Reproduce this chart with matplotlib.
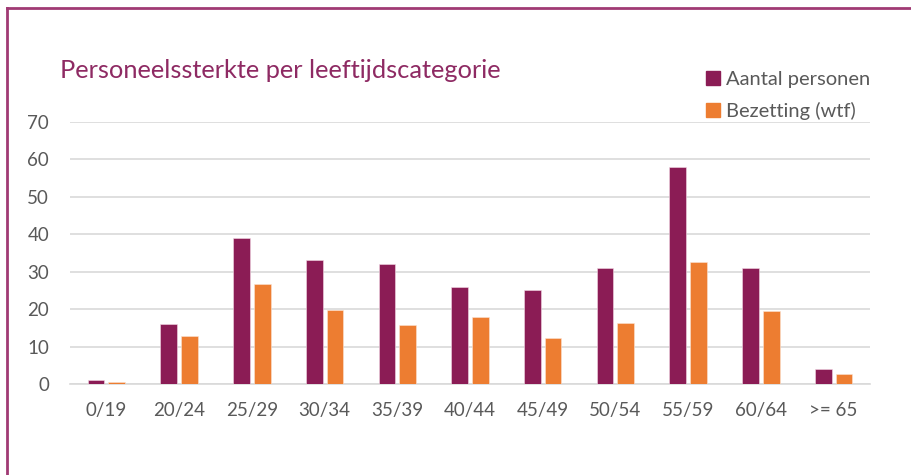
import numpy as np
import matplotlib.pyplot as plt
from matplotlib.patches import Patch
from matplotlib.lines import Line2D

# Leeftijdscategorieen en waarden
categories = ["0/19", "20/24", "25/29", "30/34", "35/39", "40/44",
              "45/49", "50/54", "55/59", "60/64", ">= 65"]
aantal_personen = [1, 16, 39, 33, 32, 26, 25, 31, 58, 31, 4]
bezetting_wtf = [0.6, 12.8, 26.8, 19.8, 15.8, 17.8, 12.3, 16.4, 32.5, 19.4, 2.7]
yticks = [0, 10, 20, 30, 40, 50, 60, 70]

purple = "#8B1C55"
orange = "#ED7D31"
grey_text = "#595959"

plt.rcParams['font.family'] = ['Lato', 'DejaVu Sans']

fig = plt.figure(figsize=(9.11, 4.75), dpi=100)
ax = fig.add_axes([70/911, 91/475, 800/911, 262/475])

x = np.arange(len(categories))
w = 0.23
ax.bar(x - 0.1425, aantal_personen, width=w, color=purple,
       edgecolor="#F3D9E6", linewidth=0.4, zorder=3)
ax.bar(x + 0.1425, bezetting_wtf, width=w, color=orange,
       edgecolor="#FBE3D3", linewidth=0.4, zorder=3)

ax.set_xlim(-0.5, len(categories) - 0.5)
ax.set_ylim(0, 70)
ax.set_yticks(yticks)
ax.set_xticks(x)
ax.set_xticklabels(categories)
ax.yaxis.grid(True, color="#D9D9D9", linewidth=1.2, zorder=0)
ax.tick_params(axis='both', length=0, labelsize=13.5, labelcolor=grey_text)
ax.tick_params(axis='y', pad=15)
ax.tick_params(axis='x', pad=13)
for s in ["top", "right", "left"]:
    ax.spines[s].set_visible(False)
ax.spines["bottom"].set_color("#D9D9D9")
ax.spines["bottom"].set_linewidth(1.2)

fig.text(60/911, 1 - 70/475, "Personeelssterkte per leeftijdscategorie",
         fontsize=18.3, color="#8E2A63", va="center", ha="left")

handles = [Patch(color=purple, label="Aantal personen"),
           Patch(color=orange, label="Bezetting (wtf)")]
fig.legend(handles=handles, loc="upper left",
           bbox_to_anchor=(698/911, 1 - 63/475), frameon=False,
           fontsize=14.5, labelcolor=grey_text, handlelength=0.7,
           handleheight=0.7, handletextpad=0.3, labelspacing=0.7,
           borderaxespad=0)

# kader rond de grafiek
fig.add_artist(Line2D([7/911, 1], [1 - 8/475, 1 - 8/475], color="#A03A74",
                      linewidth=2, transform=fig.transFigure))
fig.add_artist(Line2D([7/911, 7/911], [0, 1 - 8/475], color="#A03A74",
                      linewidth=2, transform=fig.transFigure))

fig.savefig("out.png", dpi=100)
